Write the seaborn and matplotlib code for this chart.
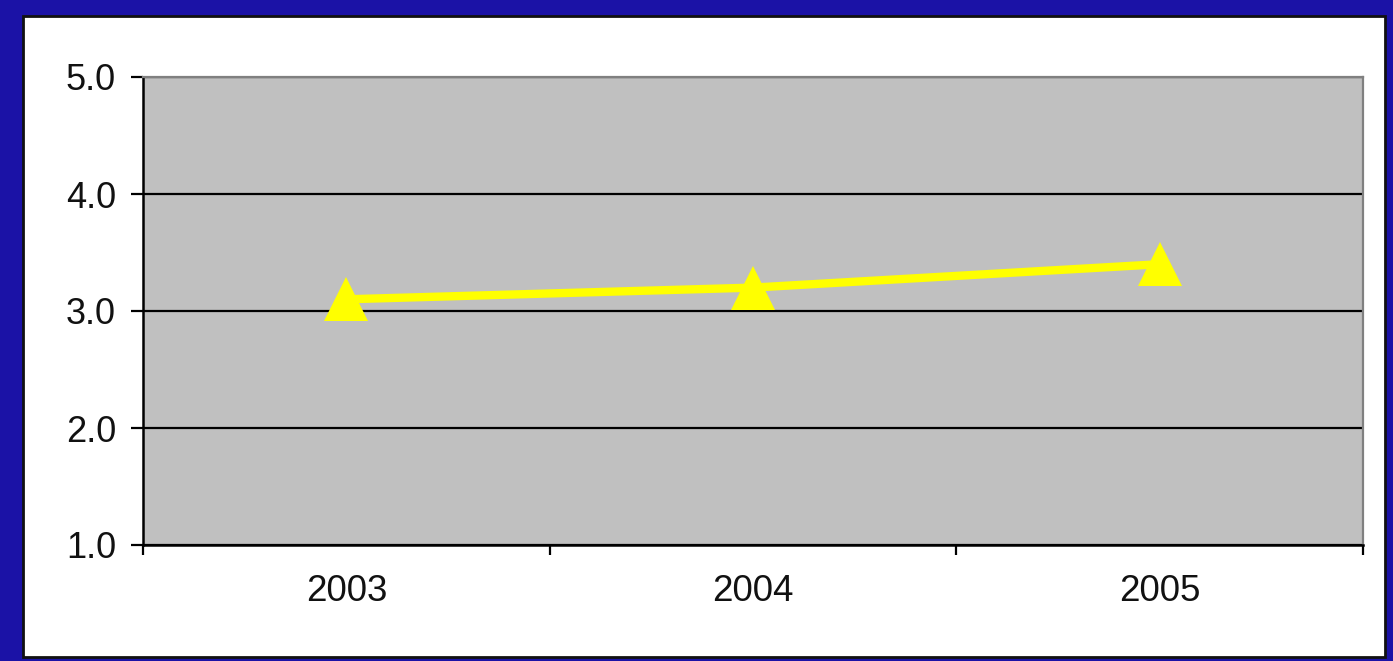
import matplotlib
matplotlib.use("Agg")
import matplotlib.pyplot as plt
from matplotlib.patches import Rectangle
import seaborn as sns
import pandas as pd

years = ["2003", "2004", "2005"]
values = [3.1, 3.2, 3.4]
y_ticks = [1.0, 2.0, 3.0, 4.0, 5.0]
y_tick_labels = ["1.0", "2.0", "3.0", "4.0", "5.0"]

sns.set_theme(style="white")
plt.rcParams["font.family"] = ["Liberation Sans", "DejaVu Sans"]

W, H = 1393, 661
fig = plt.figure(figsize=(W / 100, H / 100), dpi=100)
fig.patch.set_facecolor("#1b12a6")

# white panel with black border
fig.patches.append(Rectangle((23 / W, 1 - 657 / H), (1385 - 23) / W, (657 - 16) / H,
                             transform=fig.transFigure, facecolor="white",
                             edgecolor="#111111", linewidth=2.0, zorder=-5))

ax = fig.add_axes([143 / W, 1 - 545 / H, (1363 - 143) / W, (545 - 77) / H])
ax.set_zorder(2)
ax.set_facecolor("#c0c0c0")

df = pd.DataFrame({"year": years, "value": values})
sns.pointplot(data=df, x="year", y="value", ax=ax, color="#ffff00",
              markers="^", errorbar=None, markersize=31, linewidth=6,
              markeredgewidth=0)

ax.set_ylim(1.0, 5.0)
ax.set_xlim(-0.5, len(years) - 0.5)
ax.set_yticks(y_ticks)
ax.set_yticklabels(y_tick_labels)
ax.yaxis.grid(True, color="black", linewidth=1.6)
ax.set_axisbelow(True)

# category boundaries as major ticks, labels as minor ticks at centers
ax.set_xticks([i - 0.5 for i in range(len(years) + 1)])
ax.set_xticklabels([])
ax.set_xticks(range(len(years)), minor=True)
ax.set_xticklabels(years, minor=True)
ax.tick_params(axis="x", which="major", direction="out", length=7, width=1.6,
               color="black", bottom=True)
ax.tick_params(axis="x", which="minor", length=0, pad=21, labelsize=26.5,
               labelcolor="#111111")
ax.tick_params(axis="y", which="major", direction="out", length=9, width=1.6,
               color="black", left=True, pad=10.5, labelsize=26, labelcolor="#111111")

ax.set_xlabel("")
ax.set_ylabel("")
for side in ["left", "bottom"]:
    ax.spines[side].set_color("black")
    ax.spines[side].set_linewidth(1.8)
for side in ["top", "right"]:
    ax.spines[side].set_color("#808080")
    ax.spines[side].set_linewidth(1.6)
    ax.spines[side].set_visible(True)

fig.savefig("out.png", dpi=100, facecolor=fig.get_facecolor())
